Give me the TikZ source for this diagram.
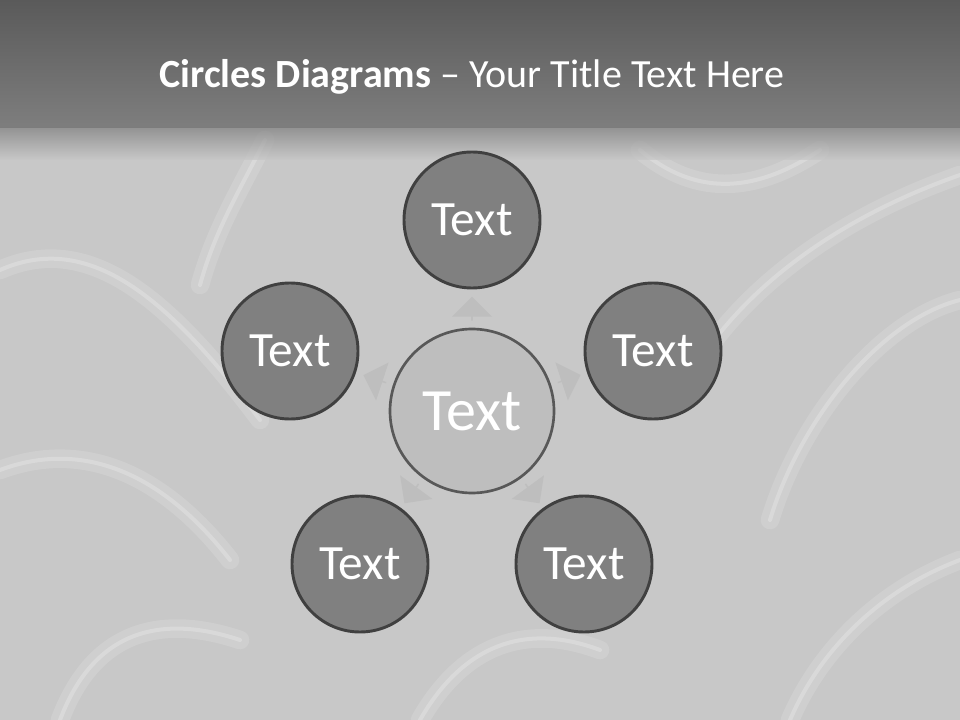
\documentclass[tikz,border=0pt]{standalone}
\usepackage{fontspec}
\setmainfont{Carlito}
\usepackage{tikz}
\usetikzlibrary{calc,shapes.arrows}

\definecolor{bandtop}{RGB}{90,90,90}
\definecolor{bandbot}{RGB}{126,126,126}
\definecolor{satin}{RGB}{200,200,200}
\definecolor{ringline}{RGB}{64,64,64}
\definecolor{ringfill}{RGB}{128,128,128}
\definecolor{hubfill}{RGB}{190,190,190}
\definecolor{hubline}{RGB}{88,88,88}
\definecolor{pointer}{RGB}{186,186,186}

\tikzset{
	ring/.style={circle, draw=ringline, line width=2.2pt, fill=ringfill, minimum size=102pt, inner sep=0pt, text=white, font=\fontsize{37}{37}\selectfont},
	hub/.style={circle, draw=hubline, line width=2pt, fill=hubfill, minimum size=123pt, inner sep=0pt, text=white, font=\fontsize{45}{45}\selectfont},
	pointerarrow/.style={single arrow, fill=pointer, opacity=0.7, inner sep=0pt, minimum height=18pt, minimum width=30pt, single arrow head extend=5pt},
	fold/.style={white, line cap=round, opacity=0.13, line width=14pt},
	foldcore/.style={white, line cap=round, opacity=0.22, line width=3pt}
}

\begin{document}
\begin{tikzpicture}[x=0.75pt,y=0.75pt,yscale=-1,xscale=1]
	\useasboundingbox (0,0) rectangle (960,720);
	
	%Background
	\fill[satin] (0,0) rectangle (960,720);
	%Satin folds
	\foreach \st in {fold, foldcore} {
		\draw[\st] (0,270) .. controls (90,230) and (170,300) .. (260,420) ;
		\draw[\st] (265,140) .. controls (240,190) and (215,230) .. (200,285) ;
		\draw[\st] (960,175) .. controls (860,210) and (760,270) .. (700,360) ;
		\draw[\st] (960,300) .. controls (880,320) and (800,420) .. (770,520) ;
		\draw[\st] (0,470) .. controls (80,440) and (160,470) .. (230,560) ;
		\draw[\st] (420,720) .. controls (460,650) and (520,620) .. (600,650) ;
		\draw[\st] (640,150) .. controls (700,200) and (760,190) .. (820,150) ;
		\draw[\st] (960,560) .. controls (880,590) and (820,650) .. (790,720) ;
		\draw[\st] (60,720) .. controls (90,640) and (150,610) .. (240,640) ;
	}
	
	%Title band
	\shade[top color=bandtop, bottom color=bandbot] (0,0) rectangle (960,128);
	\shade[top color=bandbot, bottom color=satin, opacity=0.7] (0,128) rectangle (960,160);
	
	% Text Node
	\node (title) [anchor=base, text=white, font=\fontsize{30}{30}\selectfont] at (472,88) {\textbf{Circles Diagrams} -- Your Title Text Here};
	
	%Circles
	\node (hub) [hub] at (472,411) {Text};
	\node (top) [ring] at (472,220) {Text};
	\node (right) [ring] at (653,351) {Text};
	\node (left) [ring] at (290,351) {Text};
	\node (lowright) [ring] at (584,564) {Text};
	\node (lowleft) [ring] at (360,564) {Text};
	
	%Arrows
	\foreach \ring/\ang in {top/90, right/18.3, left/161.7, lowright/-53.8, lowleft/-126.2}
		\node [pointerarrow, rotate=\ang] at ($(hub)!76.5pt!(\ring)$) {};
	
\end{tikzpicture}
\end{document}
